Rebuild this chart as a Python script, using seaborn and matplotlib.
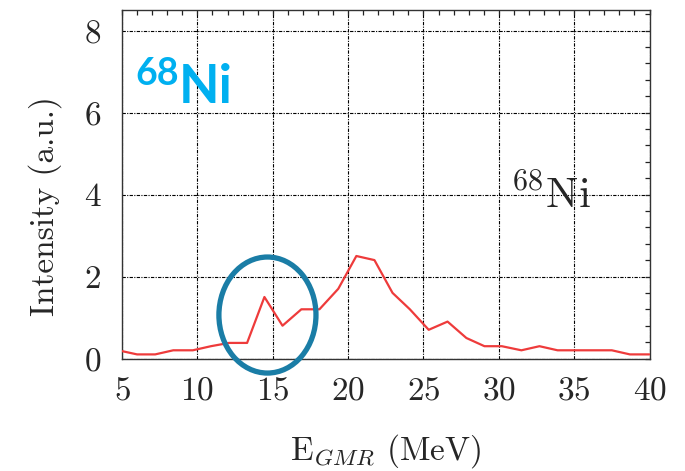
import numpy as np
import pandas as pd
import matplotlib
matplotlib.use("Agg")
import matplotlib.pyplot as plt
from matplotlib.patches import Ellipse
from matplotlib.ticker import MultipleLocator
import seaborn as sns

# Data
energy = [5.0, 6.0, 7.2, 8.4, 9.7, 10.9, 12.1, 13.3, 14.45, 15.65, 16.9, 18.1,
          19.35, 20.55, 21.75, 22.95, 24.1, 25.35, 26.6, 27.85, 29.05, 30.2,
          31.5, 32.7, 33.9, 35.1, 36.3, 37.5, 38.7, 40.0]
intensity = [0.18, 0.1, 0.1, 0.2, 0.2, 0.3, 0.38, 0.38, 1.5, 0.8, 1.2, 1.2,
             1.7, 2.5, 2.4, 1.6, 1.2, 0.7, 0.9, 0.5, 0.3, 0.3,
             0.2, 0.3, 0.2, 0.2, 0.2, 0.2, 0.1, 0.1]
x_ticks = [5, 10, 15, 20, 25, 30, 35, 40]
y_ticks = [0, 2, 4, 6, 8]

df = pd.DataFrame({"E": energy, "I": intensity})

sns.set_theme(style="white")
plt.rcParams["font.family"] = "serif"
plt.rcParams["font.serif"] = ["cmr10", "DejaVu Serif"]
plt.rcParams["mathtext.fontset"] = "cm"
plt.rcParams["axes.formatter.use_mathtext"] = True

fig = plt.figure(figsize=(6.85, 4.71), dpi=100)
ax = fig.add_axes([122 / 685, 1 - 358.5 / 471, (649.5 - 122) / 685, (358.5 - 10) / 471])

sns.lineplot(data=df, x="E", y="I", ax=ax, color="#ee3b3b", linewidth=1.6, zorder=3)

ax.set_xlim(5, 40)
ax.set_ylim(0, 8.5)
ax.set_xticks(x_ticks)
ax.set_yticks(y_ticks)
ax.xaxis.set_minor_locator(MultipleLocator(1))
ax.yaxis.set_minor_locator(MultipleLocator(0.4))
ax.grid(True, which="major", color="black", linestyle=(0, (3, 1.2, 1, 1.2)), linewidth=0.8)
ax.tick_params(which="both", direction="in", top=True, right=True, length=3.6,
               width=0.9, color="#222222")
ax.tick_params(axis="x", which="major", labelsize=24, pad=13)
ax.tick_params(axis="y", which="major", labelsize=24, pad=15)
for s in ax.spines.values():
    s.set_color("#333333")
    s.set_linewidth(1.0)

ax.set_xlabel(r"E$_{GMR}$ (MeV)", fontsize=24)
ax.set_ylabel("Intensity (a.u.)", fontsize=24)
ax.xaxis.set_label_coords(0.5, -0.21)
ax.yaxis.set_label_coords(-0.114, 0.437)

ax.text(30.8, 3.67, r"$^{68}$Ni", fontsize=31, ha="left", va="baseline", zorder=4)

ell = Ellipse((14.65, 1.06), 6.44, 2.83, fill=False, edgecolor="#1a7da6",
              linewidth=3.8, clip_on=False, zorder=5)
ax.add_patch(ell)

fig.text(135 / 685, 1 - 85 / 471, "68", fontsize=27, fontweight="bold",
         family="Lato", color="#00b0f0", ha="left", va="baseline")
fig.text(179 / 685, 1 - 103 / 471, "Ni", fontsize=38, fontweight="bold",
         family="Lato", color="#00b0f0", ha="left", va="baseline")

fig.savefig("out.png", dpi=100)
